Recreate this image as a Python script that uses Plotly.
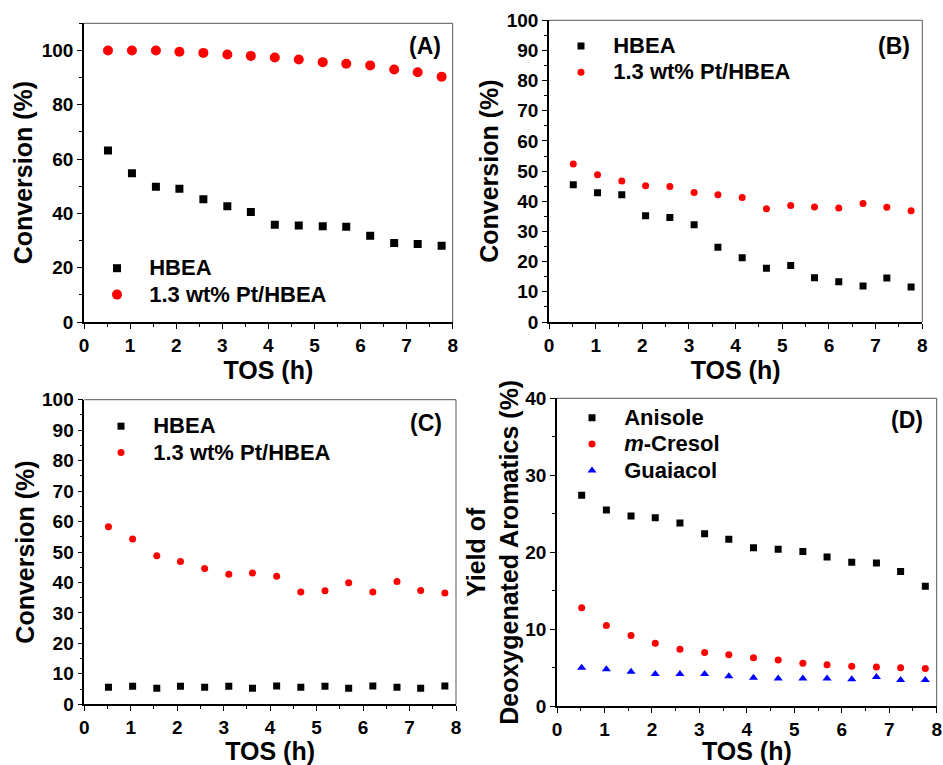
import plotly.graph_objects as go

W, H = 943, 765

tos = [0.52, 1.04, 1.56, 2.07, 2.59, 3.11, 3.62, 4.14, 4.66, 5.18, 5.69, 6.21, 6.73, 7.24, 7.76]

a_hbea = [63.2, 54.8, 49.8, 49.1, 45.2, 42.6, 40.5, 35.8, 35.5, 35.3, 35.1, 31.8, 29.1, 28.7, 28.1]
a_pt = [100.0, 100.0, 100.0, 99.5, 99.1, 98.5, 98.0, 97.4, 96.7, 95.7, 95.1, 94.5, 93.0, 92.0, 90.3]

b_hbea = [45.5, 42.8, 42.2, 35.2, 34.6, 32.2, 24.8, 21.3, 17.8, 18.7, 14.7, 13.3, 11.9, 14.6, 11.6]
b_pt = [52.4, 48.8, 46.7, 45.2, 44.9, 42.9, 42.2, 41.3, 37.5, 38.6, 38.1, 37.8, 39.3, 38.0, 36.9]

c_hbea = [5.6, 5.9, 5.3, 5.9, 5.6, 5.9, 5.3, 6.0, 5.6, 5.9, 5.3, 6.0, 5.6, 5.3, 6.0]
c_pt = [58.3, 54.3, 48.8, 46.9, 44.6, 42.7, 43.1, 42.0, 36.9, 37.3, 39.9, 36.9, 40.3, 37.4, 36.5]

d_anisole = [27.4, 25.5, 24.7, 24.5, 23.8, 22.4, 21.7, 20.6, 20.4, 20.1, 19.4, 18.7, 18.6, 17.5, 15.6]
d_cresol = [12.8, 10.5, 9.2, 8.2, 7.4, 7.0, 6.7, 6.3, 6.0, 5.6, 5.4, 5.2, 5.1, 5.0, 4.9]
d_guaiacol = [5.0, 4.8, 4.5, 4.2, 4.2, 4.2, 3.9, 3.7, 3.6, 3.6, 3.6, 3.5, 3.8, 3.4, 3.4]

FONT = "Liberation Sans, Arial, sans-serif"

def px_x(p):
    return p / W

def px_y(p):
    return 1 - p / H

# panel frames in pixels: (left, right, top, bottom)
frames = {
    1: (84, 452.7, 23.3, 322),
    2: (549, 922.3, 20.3, 322),
    3: (84.3, 456, 399.7, 704.3),
    4: (557, 936.7, 398.3, 706.3),
}
yranges = {1: (0, 110, 20, 10), 2: (0, 100, 10, 5), 3: (0, 100, 10, 5), 4: (0, 40, 10, 5)}
ytitles = {1: "Conversion (%)", 2: "Conversion (%)", 3: "Conversion (%)",
           4: "Yield of<br>Deoxygenated Aromatics (%)"}
ystandoff = {1: 2, 2: 1, 3: 0, 4: 0}
xstandoff = {1: 3, 2: 7, 3: 5, 4: 4}

fig = go.Figure()

def lname(s):
    return '<span style="font-size:22px">\u00a0\u00a0' + s + '</span>'

def add(i, y, name, color, symbol, size):
    sfx = "" if i == 1 else str(i)
    fig.add_trace(go.Scatter(
        x=tos, y=y, mode="markers", name=lname(name),
        marker=dict(color=color, symbol=symbol, size=size, line=dict(width=0)),
        xaxis="x" + sfx, yaxis="y" + sfx,
        legend="legend" + sfx, showlegend=True))

add(1, a_hbea, "HBEA", "black", "square", 8)
add(1, a_pt, "1.3 wt% Pt/HBEA", "red", "circle", 10)
add(2, b_hbea, "HBEA", "black", "square", 7)
add(2, b_pt, "1.3 wt% Pt/HBEA", "red", "circle", 7)
add(3, c_hbea, "HBEA", "black", "square", 7)
add(3, c_pt, "1.3 wt% Pt/HBEA", "red", "circle", 7)
add(4, d_anisole, "Anisole", "black", "square", 7)
add(4, d_cresol, "<i>m</i>-Cresol", "red", "circle", 7)
add(4, d_guaiacol, "Guaiacol", "blue", "triangle-up", 8)

layout = dict(
    width=W, height=H, margin=dict(l=0, r=0, t=0, b=0, autoexpand=False),
    paper_bgcolor="white", plot_bgcolor="white",
    font=dict(family=FONT, color="black", weight="bold"),
    annotations=[], shapes=[],
)

tickfont = dict(family=FONT, size=19, color="black", weight="bold")
titlefont = dict(family=FONT, size=25, color="black", weight="bold")

for i, (l, r, t, b) in frames.items():
    sfx = "" if i == 1 else str(i)
    y0, y1, dt, mdt = yranges[i]
    layout["xaxis" + sfx] = dict(
        domain=[px_x(l), px_x(r)], range=[0, 8], dtick=1, tick0=0,
        anchor="y" + sfx, showline=True, linecolor="black", linewidth=1.5,
        ticks="outside", ticklen=5, tickwidth=1.3, tickcolor="black",
        minor=dict(ticks="outside", ticklen=3, dtick=0.5, tickwidth=1, tickcolor="black"),
        showgrid=False, zeroline=False, tickfont=tickfont, automargin=False,
        title=dict(text="TOS (h)", font=titlefont, standoff=xstandoff[i]),
    )
    layout["yaxis" + sfx] = dict(
        domain=[px_y(b), px_y(t)], range=[y0, y1], dtick=dt, tick0=0,
        anchor="x" + sfx, showline=True, linecolor="black", linewidth=1.5,
        ticks="outside", ticklen=5, tickwidth=1.3, tickcolor="black",
        minor=dict(ticks="outside", ticklen=3, dtick=mdt, tickwidth=1, tickcolor="black"),
        showgrid=False, zeroline=False, tickfont=tickfont, automargin=False,
        title=dict(text=ytitles[i], font=titlefont, standoff=ystandoff[i]),
    )
    # thin grey top and right frame edges
    xr, yr = "x" + sfx + " domain", "y" + sfx + " domain"
    layout["shapes"].append(dict(type="line", xref=xr, yref=yr, x0=0, x1=1, y0=1, y1=1,
                                 line=dict(color="#555555", width=1)))
    layout["shapes"].append(dict(type="line", xref=xr, yref=yr, x0=1, x1=1, y0=0, y1=1,
                                 line=dict(color="#555555", width=1)))

# legends: (marker center x px, first marker y px)
leg_pos = {1: (117, 268), 2: (581, 45.7), 3: (121, 426), 4: (592, 417.5)}
for i, (mx, my) in leg_pos.items():
    sfx = "" if i == 1 else str(i)
    layout["legend" + sfx] = dict(
        x=px_x(mx - 20), y=px_y(my - 18), xanchor="left", yanchor="top",
        bgcolor="rgba(0,0,0,0)", borderwidth=0,
        font=dict(family=FONT, size=18, color="black", weight="bold"),
        tracegroupgap=0, itemwidth=30,
    )

labels = {1: ("(A)", 424.5, 45.7), 2: ("(B)", 893.8, 45.7), 3: ("(C)", 426, 423.3), 4: ("(D)", 906.7, 420)}
for i, (txt, cx, cy) in labels.items():
    layout["annotations"].append(dict(
        text=txt, x=px_x(cx), y=px_y(cy), xref="paper", yref="paper",
        xanchor="center", yanchor="middle", showarrow=False,
        font=dict(family=FONT, size=23, color="black", weight="bold")))

fig.update_layout(**layout)
fig.write_html("out.html")
